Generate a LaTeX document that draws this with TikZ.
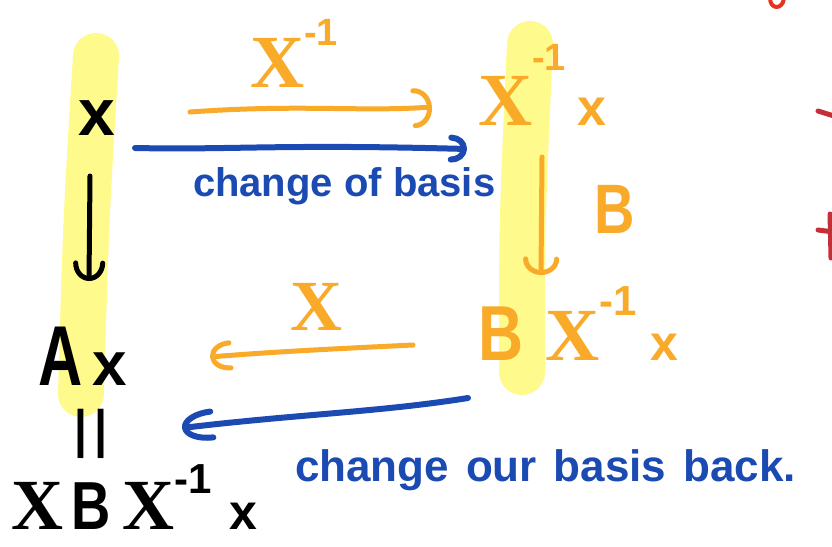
\documentclass[tikz,border=0pt]{standalone}
\usepackage{fontspec}
\setmainfont{Liberation Sans}
\newfontfamily\serX{Liberation Serif}
\usetikzlibrary{arrows.meta}
\definecolor{hl}{RGB}{255,250,140}
\definecolor{org}{RGB}{248,170,40}
\definecolor{blu}{RGB}{26,74,178}
\definecolor{redA}{RGB}{232,50,30}
\definecolor{redB}{RGB}{196,48,56}
\newcommand\bX[1]{{\serX\bfseries\fontsize{#1}{#1}\selectfont X}}
\newcommand\hw[2]{{\bfseries\fontsize{#1}{#1}\selectfont #2}}
\newcommand\nB[1]{\scalebox{0.8}[1]{\hw{#1}{B}}}
\begin{document}
\begin{tikzpicture}[x=1pt,y=-1pt,
  every node/.style={inner sep=0pt, outer sep=0pt},
  pen/.style={line width=5pt, line cap=round, line join=round},
  blk/.style={pen, draw=black},
  orng/.style={pen, draw=org},
  bl/.style={pen, draw=blu, line width=6pt},
  hlbar/.style={draw=hl, line width=46pt, line cap=round}]
\fill[white] (0,0) rectangle (832,546);
\useasboundingbox (0,0) rectangle (832,546);
% highlights
\draw[hlbar] (96,56) .. controls (86,220) .. (81,394);
\draw[hlbar] (530,44) .. controls (522,220) .. (522,372);
% black texts
\node[anchor=base] (x0) at (97,135) {\hw{66}{x}};
\node[anchor=base west] (Ax) at (38,385) {\scalebox{0.72}[1]{\hw{85}{A}}\hspace{10pt}\hw{62}{x}};
\node[rotate=90] (eq) at (98,434) {\scalebox{1.45}[1.15]{\fontsize{70}{70}\selectfont =}};
\node[anchor=base west] (XBX) at (12,529) {\bX{72}\hspace{8pt}\nB{68}\hspace{11pt}\bX{72}\raisebox{36pt}{\hw{42}{-1}}\hspace{18pt}\hw{50}{x}};
% orange texts
\node[anchor=base west, text=org] (Xi) at (250,87) {\bX{75}\raisebox{42pt}{\hw{38}{-1}}};
\node[anchor=base west, text=org] (Xix) at (478,125) {\bX{75}\raisebox{55pt}{\hw{38}{-1}}\hspace{12pt}\hw{52}{x}};
\node[anchor=base, text=org] (B) at (615,233) {\nB{70}};
\node[anchor=base west, text=org] (BXix) at (478,360) {\nB{78}\hspace{22pt}\bX{75}\raisebox{45pt}{\hw{42}{-1}}\hspace{14pt}\hw{50}{x}};
\node[anchor=base, text=org] (Xo) at (316,330) {\bX{72}};
% blue texts
\node[anchor=base west, text=blu] (cb) at (193,196) {\hw{40}{change of basis}};
\node[anchor=base west, text=blu] (cbb) at (295,481) {\hw{44}{\spaceskip=17pt change our basis back.}};
% arrow end points
\coordinate (k1) at (90,176);  \coordinate (k2) at (89,281);
\coordinate (o1) at (190,112); \coordinate (o2) at (432,107);
\coordinate (b1) at (135,148); \coordinate (b2) at (467,149);
\coordinate (d1) at (542,157); \coordinate (d2) at (541,275);
\coordinate (p1) at (413,345); \coordinate (p2) at (210,357);
\coordinate (q1) at (468,398); \coordinate (q2) at (182,428);
% arrows
\draw[blk, -{Arc Barb[length=18pt,width=32pt,round]}] (k1) -- (k2);
\draw[orng, -{Arc Barb[length=18pt,width=40pt,round]}] (o1) .. controls (300,104) and (360,112) .. (o2);
\draw[bl, -{Arc Barb[length=16pt,width=28pt,round]}] (b1) .. controls (230,150) and (280,144) .. (b2);
\draw[orng, -{Arc Barb[length=16pt,width=36pt,round]}] (d1) -- (d2);
\draw[orng, -{Arc Barb[length=20pt,width=30pt,round]}] (p1) .. controls (330,349) and (270,352) .. (p2);
\draw[bl, -{Arc Barb[length=30pt,width=32pt,round]}] (q1) .. controls (380,412) and (300,414) .. (q2);
% red marks at the right edge
\draw[pen, draw=redA, line width=4pt] (770,-2) .. controls (770,10) and (783,10) .. (784,-2);
\draw[pen, draw=redB] (818,111) -- (834,116);
\draw[pen, draw=redB] (818,230) -- (834,232);
\draw[pen, draw=redB] (830,214) -- (831,258);
\end{tikzpicture}
\end{document}
